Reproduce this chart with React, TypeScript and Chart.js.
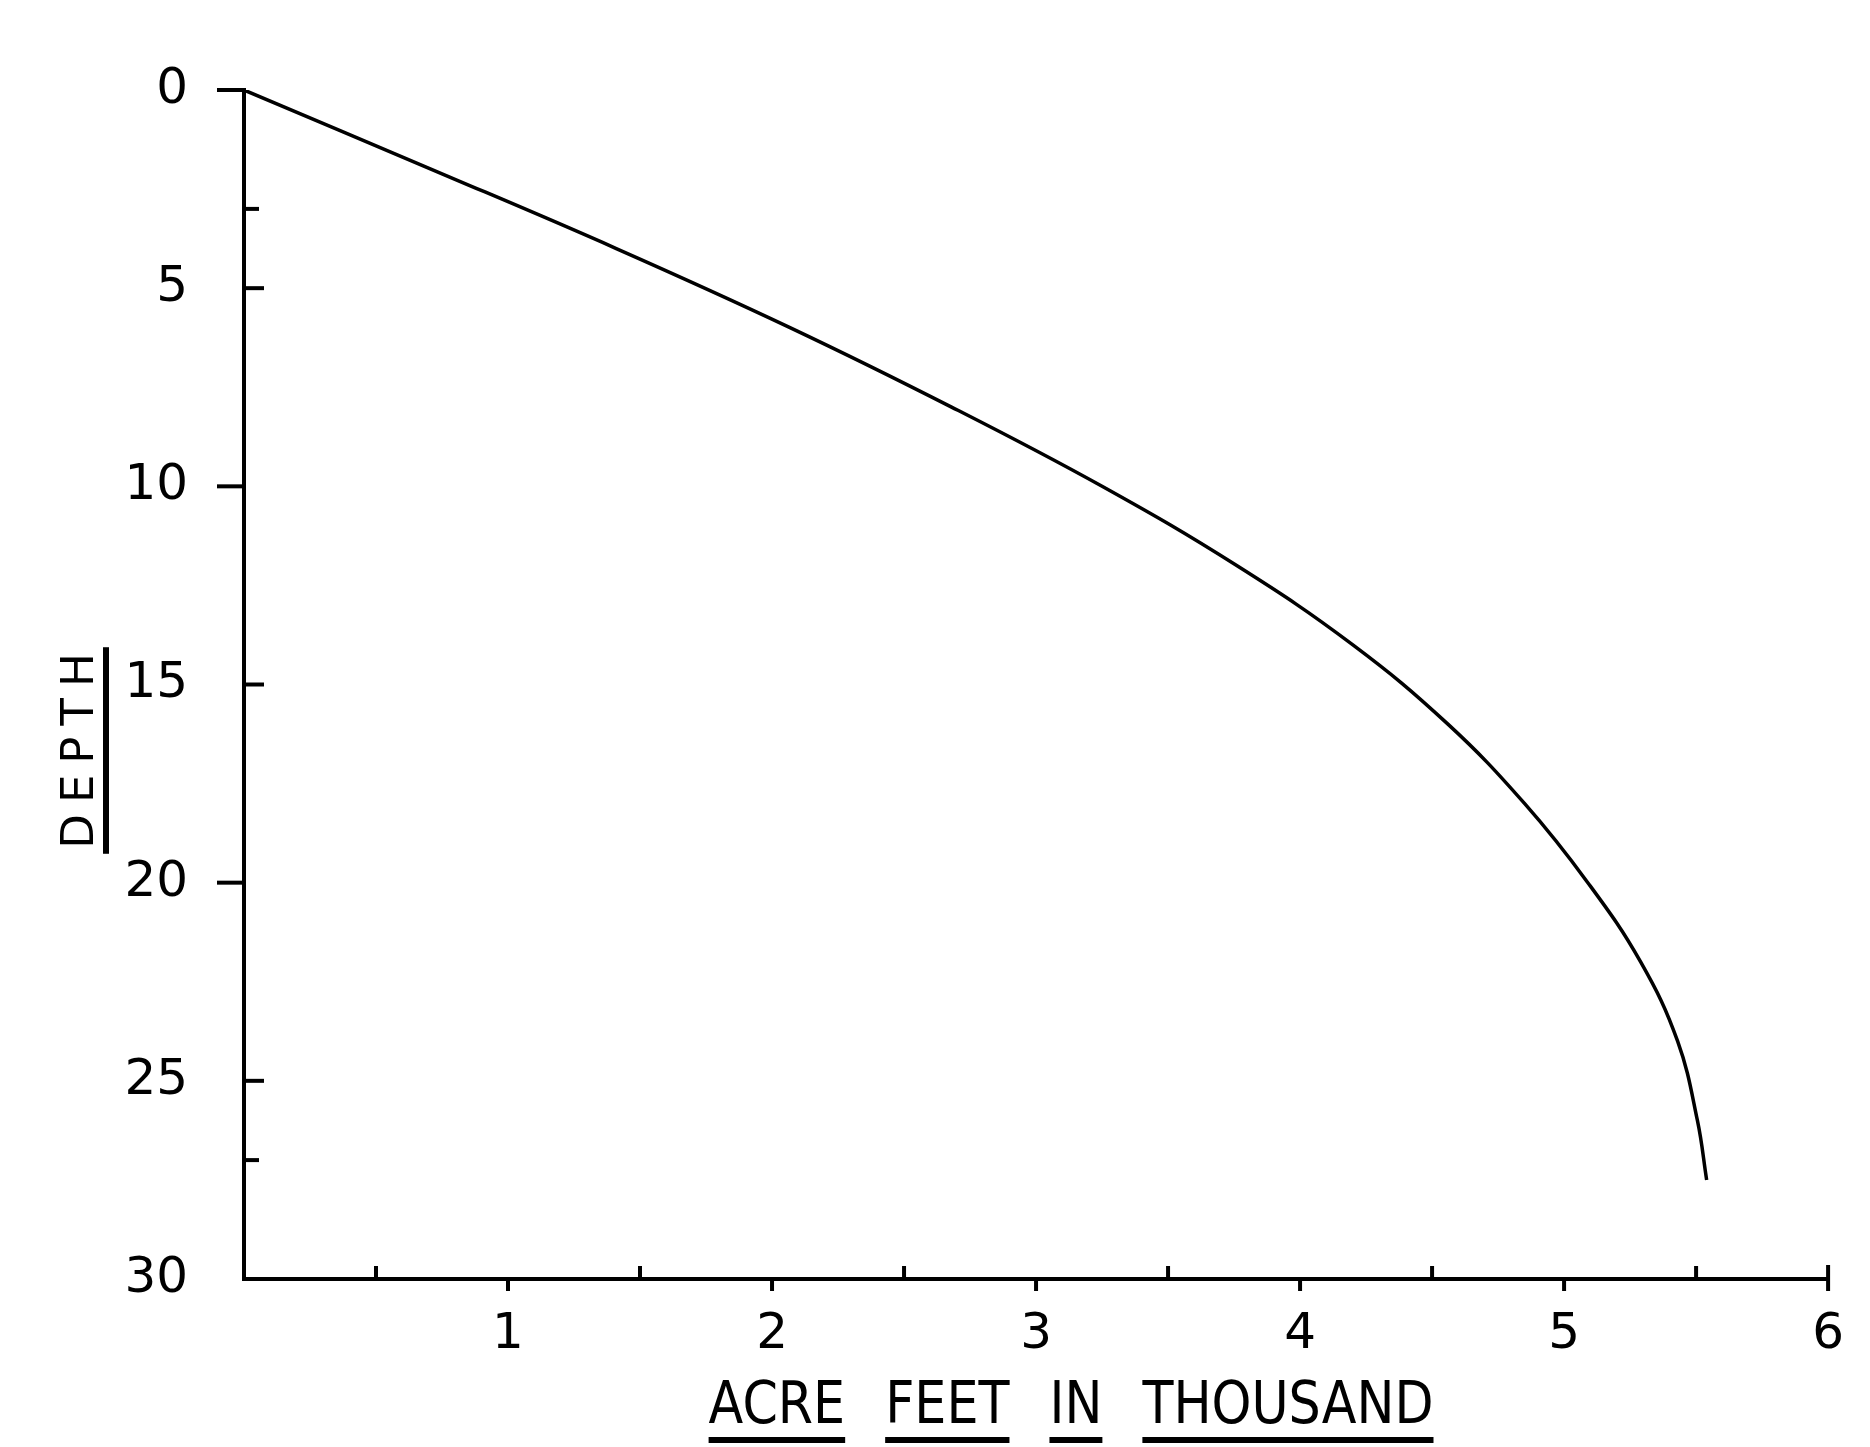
import React, { useEffect, useRef } from "react";
import { Chart, registerables } from "chart.js";

Chart.register(...registerables);

// Curve: storage in thousand acre-feet vs depth
const depth = [0, 2, 4, 6, 8, 10, 12, 14, 16, 18, 20, 22, 24, 26, 27.5];
const acreFeet = [0, 0.71, 1.41, 2.07, 2.68, 3.25, 3.76, 4.2, 4.56, 4.85, 5.09, 5.29, 5.43, 5.505, 5.54];

// Axis ticks
const xLabelTicks = [0, 1, 2, 3, 4, 5, 6];
const xMajorTicks = [1, 2, 3, 4, 5, 6];
const xMinorTicks = [0.5, 1.5, 2.5, 3.5, 4.5, 5.5];
const yLabelTicks = [0, 5, 10, 15, 20, 25, 30];
const yTicksLeft = [0, 10, 20];
const yTicksRight = [5, 15, 25];
const yMinorTicks = [3, 27];

const xTitleWords = ["ACRE", "FEET", "IN", "THOUSAND"];
const yTitle = "DEPTH";

const FONT = '"DejaVu Sans", "Liberation Sans", sans-serif';

const decorPlugin = {
  id: "decor",
  afterDraw(chart: any) {
    const ctx = chart.ctx;
    const xs = chart.scales.x;
    const ys = chart.scales.y;
    const { left, right, bottom } = chart.chartArea;
    ctx.save();
    ctx.strokeStyle = "#000";
    ctx.fillStyle = "#000";
    ctx.lineWidth = 4;
    ctx.lineCap = "butt";
    const line = (x1: number, y1: number, x2: number, y2: number) => {
      ctx.beginPath();
      ctx.moveTo(x1, y1);
      ctx.lineTo(x2, y2);
      ctx.stroke();
    };
    // x ticks
    xMajorTicks.forEach((v) => {
      const px = xs.getPixelForValue(v);
      line(px, bottom, px, bottom + 12);
    });
    const p6 = xs.getPixelForValue(6);
    line(p6, bottom, p6, bottom - 14);
    xMinorTicks.forEach((v) => {
      const px = xs.getPixelForValue(v);
      line(px, bottom, px, bottom - 13);
    });
    // y ticks
    yTicksLeft.forEach((v) => {
      const py = ys.getPixelForValue(v);
      line(left, py, left - 27, py);
    });
    yTicksRight.forEach((v) => {
      const py = ys.getPixelForValue(v);
      line(left, py, left + 20, py);
    });
    yMinorTicks.forEach((v) => {
      const py = ys.getPixelForValue(v);
      line(left, py, left + 15, py);
    });

    // x title with underlined words
    ctx.font = "59px " + FONT;
    ctx.textBaseline = "alphabetic";
    ctx.textAlign = "left";
    const sx = 0.86;
    const gap = 40;
    const widths = xTitleWords.map((w) => ctx.measureText(w).width * sx);
    const total = widths.reduce((a, b) => a + b, 0) + gap * (xTitleWords.length - 1);
    let x = (left + right) / 2 + 35 - total / 2;
    const baseY = bottom + 144;
    xTitleWords.forEach((w, i) => {
      ctx.save();
      ctx.translate(x, baseY);
      ctx.scale(sx, 1);
      ctx.fillText(w, 0, 0);
      ctx.restore();
      ctx.fillRect(x, baseY + 14, widths[i], 6);
      x += widths[i] + gap;
    });

    // y title rotated with underline
    ctx.save();
    ctx.translate(93, (ys.getPixelForValue(0) + ys.getPixelForValue(30)) / 2 + 66);
    ctx.rotate(-Math.PI / 2);
    ctx.font = "45px " + FONT;
    (ctx as any).letterSpacing = "11px";
    ctx.textAlign = "center";
    ctx.textBaseline = "alphabetic";
    ctx.fillText(yTitle, 5, 0);
    const tw = ctx.measureText(yTitle).width;
    ctx.fillRect(-tw / 2, 10, tw, 6);
    ctx.restore();

    ctx.restore();
  },
};

export default function App() {
  const ref = useRef<HTMLCanvasElement | null>(null);
  useEffect(() => {
    if (!ref.current) return;
    const data = acreFeet.map((v, i) => ({ x: v, y: depth[i] }));
    const chart = new Chart(ref.current, {
      type: "scatter",
      data: {
        datasets: [
          {
            data,
            showLine: true,
            borderColor: "#000",
            borderWidth: 3.5,
            pointRadius: 0,
            fill: false,
            tension: 0.4,
          } as any,
        ],
      },
      plugins: [decorPlugin],
      options: {
        animation: false,
        responsive: false,
        devicePixelRatio: 1,
        layout: { padding: { top: 90, right: 23, bottom: 0, left: 0 } },
        plugins: {
          legend: { display: false },
          tooltip: { enabled: false },
          title: { display: false },
        },
        scales: {
          x: {
            type: "linear",
            position: "bottom",
            min: 0,
            max: 6,
            afterFit: (s: any) => {
              s.height = 168;
            },
            afterBuildTicks: (s: any) => {
              s.ticks = xLabelTicks.map((v) => ({ value: v }));
            },
            grid: { display: true, drawOnChartArea: false, drawTicks: false, color: "rgba(0,0,0,0)" },
            border: { display: true, color: "#000", width: 4 },
            ticks: {
              autoSkip: false,
              maxRotation: 0,
              padding: 26,
              color: "#000",
              font: { size: 50, family: FONT },
              callback: (v: any) => (v === 0 ? "" : String(v)),
            },
          },
          y: {
            type: "linear",
            position: "left",
            min: 0,
            max: 30,
            reverse: true,
            afterFit: (s: any) => {
              s.width = 244;
            },
            afterBuildTicks: (s: any) => {
              s.ticks = yLabelTicks.map((v) => ({ value: v }));
            },
            grid: { display: true, drawOnChartArea: false, drawTicks: false, color: "rgba(0,0,0,0)" },
            border: { display: true, color: "#000", width: 4 },
            ticks: {
              autoSkip: false,
              padding: 56,
              color: "#000",
              font: { size: 50, family: FONT },
              callback: (v: any) => String(v),
            },
          },
        },
      },
    });
    return () => chart.destroy();
  }, []);
  return (
    <div style={{ position: "absolute", left: 0, top: 0, width: 1870, height: 1447, background: "#fff" }}>
      <canvas ref={ref} width={1870} height={1447} style={{ display: "block" }} />
    </div>
  );
}
